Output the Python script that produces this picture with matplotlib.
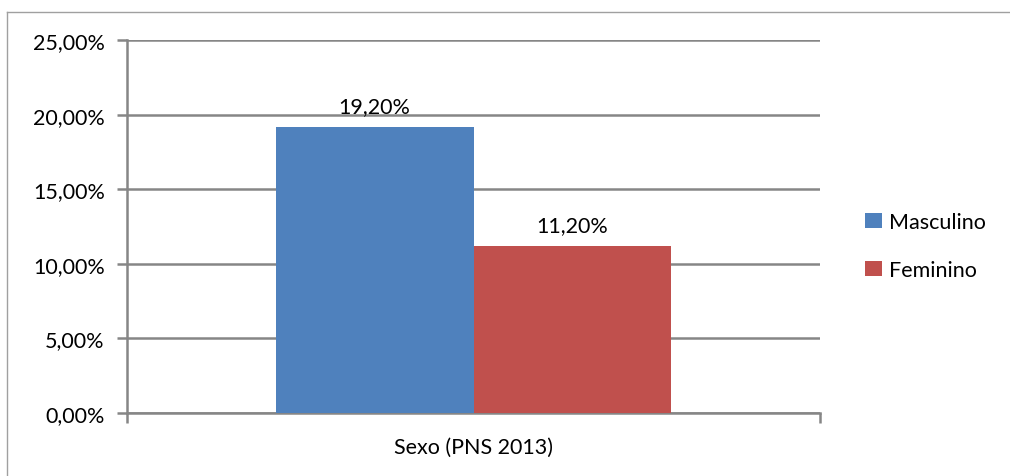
import matplotlib.pyplot as plt
from matplotlib.lines import Line2D
from matplotlib.patches import Patch
from matplotlib.ticker import FuncFormatter

# Dados
category = 'Sexo (PNS 2013)'
series = ['Masculino', 'Feminino']
values = [19.2, 11.2]
colors = ['#4f81bd', '#c0504d']
yticks = [0, 5, 10, 15, 20, 25]

plt.rcParams['font.family'] = ['Lato', 'DejaVu Sans']
grey = '#868686'
fs = 15.5

fig = plt.figure(figsize=(10.10, 4.77), dpi=100)
W, H = 1010, 477
ax = fig.add_axes([127 / W, 1 - 414 / H, (820 - 127) / W, (414 - 41) / H])

width = 0.2857
offsets = [-width / 2, width / 2]
for off, val, col, name in zip(offsets, values, colors, series):
    ax.bar(off, val, width, color=col, label=name, zorder=3)
    ax.text(off, val + 0.7, f'{val:.2f}%'.replace('.', ','), ha='center', va='bottom',
            fontsize=fs, color='black')

ax.set_xlim(-0.5, 0.5)
ax.set_ylim(0, 25)
ax.set_yticks(yticks)
ax.yaxis.set_major_formatter(FuncFormatter(lambda v, p: f'{v:.2f}%'.replace('.', ',')))
ax.set_xticks([0])
ax.set_xticklabels([category])
ax.set_xticks([-0.5, 0.5], minor=True)

ax.grid(axis='y', color=grey, linewidth=1.8, zorder=0)
for s in ['top', 'right']:
    ax.spines[s].set_visible(False)
for s in ['left', 'bottom']:
    ax.spines[s].set_color(grey)
    ax.spines[s].set_linewidth(1.8)

ax.tick_params(axis='y', length=7, width=1.8, color=grey, labelsize=fs, pad=9)
ax.tick_params(axis='x', which='major', length=0, labelsize=fs, pad=17)
ax.tick_params(axis='x', which='minor', length=7, width=1.8, color=grey, direction='out')

handles = [Patch(facecolor=c, label=n) for c, n in zip(colors, series)]
fig.legend(handles=handles, loc='center left', bbox_to_anchor=(846 / W, 1 - 247 / H),
           frameon=False, fontsize=fs, handlelength=0.75, handleheight=0.75,
           handletextpad=0.35, labelspacing=1.3)

# moldura externa do gráfico
fig.add_artist(Line2D([7 / W, 7 / W], [0, 1 - 13 / H], color='#a0a0a0', linewidth=1))
fig.add_artist(Line2D([7 / W, 1], [1 - 13 / H, 1 - 13 / H], color='#a0a0a0', linewidth=1))

fig.savefig('out.png', dpi=100)
